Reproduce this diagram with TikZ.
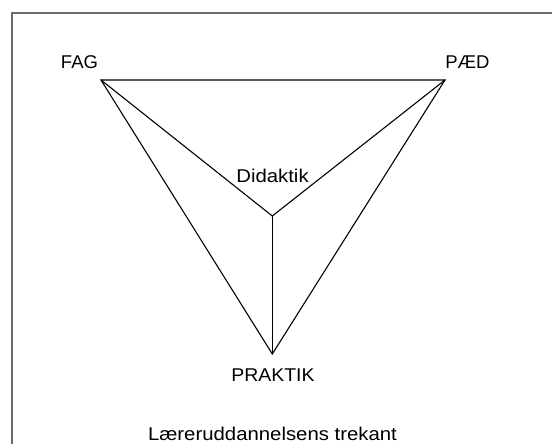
\documentclass[tikz,border=0pt]{standalone}
\usepackage{fontspec}
\setmainfont{Liberation Sans}
\newfontfamily\widefont[FakeStretch=1.1]{Liberation Sans}
\newfontfamily\midfont[FakeStretch=1.05]{Liberation Sans}
\begin{document}
\begin{tikzpicture}[x=1pt,y=-1pt,
  lbl/.style={anchor=base,inner sep=0pt,font=\fontsize{18.5}{22}\selectfont},
  edge/.style={draw=black,line width=1.1pt,line join=miter},
  frame/.style={draw=black!58,line width=2.8pt,line cap=round}]
\useasboundingbox (0,0) rectangle (552,444);
\fill[white] (0,0) rectangle (552,444);
\coordinate (fl) at (12,444);
\coordinate (fc) at (12,13);
\coordinate (fr) at (556,13);
\draw[frame] (fl) -- (fc) -- (fr);
\coordinate (fag) at (101,80);
\coordinate (paed) at (445,80);
\coordinate (mid) at (272.3,216);
\coordinate (prak) at (272.3,354);
\draw[edge] (fag) -- (paed) -- (prak) -- cycle;
\draw[edge] (fag) -- (mid) -- (paed);
\draw[edge] (mid) -- (prak);
\node[lbl] (tfag) at (79.5,69) {FAG};
\node[lbl] (tpaed) at (467.5,69) {PÆD};
\node[lbl] (tdid) at (272.5,182) {\widefont Didaktik};
\node[lbl] (tprak) at (273,381) {\midfont PRAKTIK};
\node[lbl] (tcap) at (272.5,440) {\widefont Læreruddannelsens trekant};
\end{tikzpicture}
\end{document}
